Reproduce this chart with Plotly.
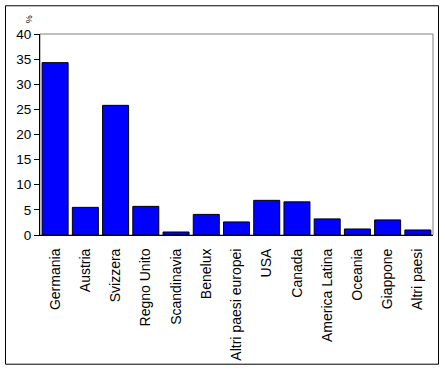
import plotly.graph_objects as go

categories = ["Germania", "Austria", "Svizzera", "Regno Unito", "Scandinavia", "Benelux",
              "Altri paesi europei", "USA", "Canada", "America Latina", "Oceania",
              "Giappone", "Altri paesi"]
values = [34.3, 5.5, 25.8, 5.7, 0.6, 4.1, 2.6, 6.9, 6.6, 3.2, 1.2, 3.0, 1.0]
y_ticks = [0, 5, 10, 15, 20, 25, 30, 35, 40]

FONT = "Liberation Sans, Arial, sans-serif"

fig = go.Figure(go.Bar(
    x=categories, y=values,
    marker=dict(color="#0000FF", line=dict(color="#000000", width=1)),
    width=0.86,
))

L, R, T, B = 40, 445 - 433, 34, 373 - 237
pw, ph = 445 - L - R, 373 - T - B

def px(x):
    return (x - L) / pw

def py(y):
    return (373 - B - y) / ph

fig.update_layout(
    width=445, height=373,
    margin=dict(l=L, r=R, t=T, b=B, pad=0),
    paper_bgcolor="white", plot_bgcolor="white",
    showlegend=False,
    font=dict(family=FONT, size=13, color="#000000"),
    xaxis=dict(
        type="category", tickangle=-90, showgrid=False,
        showline=True, linecolor="#000000", linewidth=1,
        ticks="", ticklabelstandoff=7,
        tickfont=dict(family=FONT, size=14),
        range=[-0.5, len(categories) - 0.5],
    ),
    yaxis=dict(
        range=[0, 40], tickvals=y_ticks, showgrid=False,
        showline=True, linecolor="#000000", linewidth=1,
        ticks="outside", ticklen=5, tickcolor="#000000",
        tickfont=dict(family=FONT, size=13.5), zeroline=False,
    ),
    shapes=[
        dict(type="rect", xref="paper", yref="paper", x0=0, x1=1, y0=0, y1=1,
             line=dict(color="#808080", width=1), layer="below"),
        dict(type="rect", xref="paper", yref="paper",
             x0=px(5.5), x1=px(438.5), y0=py(5.5), y1=py(367.5),
             line=dict(color="#000000", width=1), fillcolor="rgba(0,0,0,0)"),
    ],
    annotations=[
        dict(text="%", xref="paper", yref="paper", x=px(22), y=py(13),
             showarrow=False, textangle=-90, font=dict(family=FONT, size=9)),
    ],
)

fig.write_html("out.html", config={"displayModeBar": False},
               post_script="document.body.style.margin='0';document.body.style.overflow='hidden';")
